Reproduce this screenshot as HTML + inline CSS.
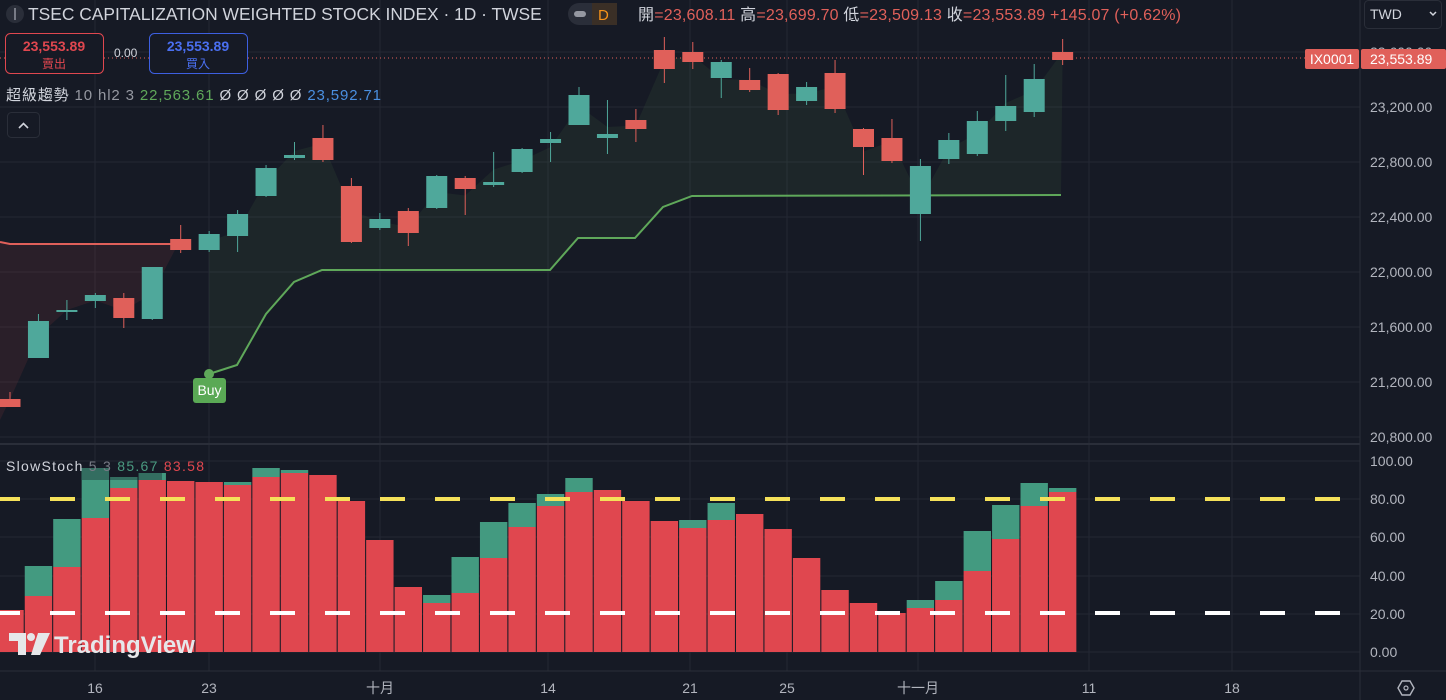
<!DOCTYPE html>
<html><head><meta charset="utf-8">
<style>
html,body{margin:0;padding:0;background:#161a25;width:1446px;height:700px;overflow:hidden;font-family:"Liberation Sans","Noto Sans CJK TC",sans-serif}
svg{display:block}
</style></head>
<body>
<svg id="s" width="1446" height="700" xmlns="http://www.w3.org/2000/svg" font-family="Liberation Sans, Noto Sans CJK TC, sans-serif">
<rect width="1446" height="700" fill="#161a25"/>
<g id="grid" stroke="#242833" stroke-width="1">
 <line x1="0" y1="52" x2="1360" y2="52"/><line x1="0" y1="107" x2="1360" y2="107"/><line x1="0" y1="162" x2="1360" y2="162"/><line x1="0" y1="217" x2="1360" y2="217"/><line x1="0" y1="272" x2="1360" y2="272"/><line x1="0" y1="327" x2="1360" y2="327"/><line x1="0" y1="382" x2="1360" y2="382"/><line x1="0" y1="437" x2="1360" y2="437"/>
 <line x1="0" y1="461" x2="1360" y2="461"/><line x1="0" y1="499" x2="1360" y2="499"/><line x1="0" y1="537" x2="1360" y2="537"/><line x1="0" y1="576" x2="1360" y2="576"/><line x1="0" y1="614" x2="1360" y2="614"/><line x1="0" y1="652" x2="1360" y2="652"/>
 <line x1="95" y1="0" x2="95" y2="671"/><line x1="209" y1="0" x2="209" y2="671"/><line x1="380" y1="0" x2="380" y2="671"/><line x1="548" y1="0" x2="548" y2="671"/><line x1="690" y1="0" x2="690" y2="671"/><line x1="787" y1="0" x2="787" y2="671"/><line x1="918" y1="0" x2="918" y2="671"/><line x1="1089" y1="0" x2="1089" y2="671"/><line x1="1232" y1="0" x2="1232" y2="671"/>
</g>
<line x1="0" y1="444" x2="1360" y2="444" stroke="#2a2e39" stroke-width="2"/>
<line x1="0" y1="671" x2="1446" y2="671" stroke="#2a2e39"/>
<line x1="1360" y1="0" x2="1360" y2="700" stroke="#2a2e39"/>
<g id="fills"></g>
<g id="lines"></g>
<g id="candles"></g>
<g id="stoch"></g>
<line x1="0" y1="58" x2="1305" y2="58" stroke="#e0605a" stroke-dasharray="1,3" stroke-width="1"/>
<g id="dash"></g>
<circle cx="209" cy="374" r="5" fill="#5fa85a"/>
<rect x="193" y="378" width="33" height="25" rx="3" fill="#5aa955"/>
<text x="209.5" y="395" fill="#fff" font-size="14" text-anchor="middle">Buy</text>
<circle cx="15" cy="14" r="9" fill="#2a2e39"/><rect x="14" y="8" width="2" height="12" fill="#787b86"/>
<text x="28" y="20" fill="#d1d4dc" font-size="17.4">TSEC CAPITALIZATION WEIGHTED STOCK INDEX · 1D · TWSE</text>
<rect x="568" y="3" width="49" height="22" rx="11" fill="#2a2e39"/>
<rect x="574" y="11" width="12" height="6" rx="3" fill="#9598a1"/>
<rect x="592" y="3" width="25" height="22" fill="#3a2f26"/>
<text x="598" y="20" fill="#f7931a" font-size="15">D</text>
<text x="638" y="20" font-size="16" fill="#d1d4dc" textLength="543" lengthAdjust="spacing">開<tspan fill="#e0605a">=23,608.11</tspan> 高<tspan fill="#e0605a">=23,699.70</tspan> 低<tspan fill="#e0605a">=23,509.13</tspan> 收<tspan fill="#e0605a">=23,553.89 +145.07 (+0.62%)</tspan></text>
<rect x="5.5" y="33.5" width="98" height="40" rx="5" fill="#161a25" stroke="#e0474f"/>
<text x="54" y="51" fill="#e0474f" font-size="14" font-weight="bold" text-anchor="middle">23,553.89</text>
<text x="54" y="68" fill="#e0474f" font-size="12" text-anchor="middle">賣出</text>
<text x="114" y="57" fill="#d1d4dc" font-size="12">0.00</text>
<rect x="149.5" y="33.5" width="98" height="40" rx="5" fill="#161a25" stroke="#3d5fe0"/>
<text x="198" y="51" fill="#4a6ff0" font-size="14" font-weight="bold" text-anchor="middle">23,553.89</text>
<text x="198" y="68" fill="#4a6ff0" font-size="12" text-anchor="middle">買入</text>
<text x="6" y="100" font-size="15" fill="#d1d4dc" textLength="375" lengthAdjust="spacing">超級趨勢 <tspan fill="#9598a1">10 hl2 3</tspan>  <tspan fill="#5fa85a">22,563.61</tspan>  <tspan fill="#d1d4dc">Ø Ø Ø Ø Ø</tspan> <tspan fill="#4a8fe0">23,592.71</tspan></text>
<rect x="7.5" y="112.5" width="32" height="25" rx="4" fill="#161a25" stroke="#2a2e39"/>
<path d="M19 128 L23.5 123.5 L28 128" stroke="#d1d4dc" stroke-width="1.6" fill="none"/>
<text x="6" y="471" font-size="14" fill="#d1d4dc" textLength="198" lengthAdjust="spacing">SlowStoch <tspan fill="#787b86">5 3</tspan>  <tspan fill="#4a9a80">85.67</tspan> <tspan fill="#e0474f">83.58</tspan></text>
<g fill="#e6e7ea"><path d="M9 633 h17 v22 h-8 v-14 h-9z"/><circle cx="31" cy="637" r="4"/><path d="M38 633 h12 l-10 22 h-9z"/></g>
<text x="54" y="653" font-size="24" font-weight="bold" fill="#e6e7ea">TradingView</text>
<rect x="1364.5" y="0.5" width="77" height="28" rx="4" fill="#161a25" stroke="#2a2e39"/>
<text x="1370" y="19" fill="#d1d4dc" font-size="14">TWD</text>
<path d="M1430 12 l3 3 l3 -3" stroke="#d1d4dc" stroke-width="1.5" fill="none"/>
<g fill="#b2b5be" font-size="14">
<text x="1370" y="57">23,600.00</text><text x="1370" y="112">23,200.00</text><text x="1370" y="167">22,800.00</text><text x="1370" y="222">22,400.00</text><text x="1370" y="277">22,000.00</text><text x="1370" y="332">21,600.00</text><text x="1370" y="387">21,200.00</text><text x="1370" y="442">20,800.00</text>
<text x="1370" y="466">100.00</text><text x="1370" y="504">80.00</text><text x="1370" y="542">60.00</text><text x="1370" y="581">40.00</text><text x="1370" y="619">20.00</text><text x="1370" y="657">0.00</text>
</g>
<rect x="1305" y="49" width="54" height="20" rx="2" fill="#e0605a"/>
<text x="1332" y="64" fill="#fff" font-size="14" text-anchor="middle">IX0001</text>
<rect x="1361" y="49" width="85" height="20" rx="2" fill="#e0605a"/>
<text x="1370" y="64" fill="#fff" font-size="14">23,553.89</text>
<g fill="#b2b5be" font-size="14" text-anchor="middle">
<text x="95" y="693">16</text><text x="209" y="693">23</text><text x="380" y="693">十月</text><text x="548" y="693">14</text><text x="690" y="693">21</text><text x="787" y="693">25</text><text x="918" y="693">十一月</text><text x="1089" y="693">11</text><text x="1232" y="693">18</text>
</g>
<path d="M1398 688 l4 -7 h8 l4 7 l-4 7 h-8z" fill="none" stroke="#b2b5be" stroke-width="1.4"/><circle cx="1406" cy="688" r="2" fill="none" stroke="#b2b5be" stroke-width="1.2"/>
</svg>
<script>
var NS="http://www.w3.org/2000/svg";
function el(p,t,a){var e=document.createElementNS(NS,t);for(var k in a)e.setAttribute(k,a[k]);document.getElementById(p).appendChild(e);return e;}
var C=[[0,399,407,392,407],[1,321,358,314,358],[1,310,312,300,320],[1,295,301,293,308],[0,298,318,293,328],[1,267,319,267,320],[0,239,250,225,253],[1,234,250,231,252],[1,214,236,210,252],[1,168,196,165,197],[1,155,158,142,160],[0,138,160,125,162],[0,186,242,178,243],[1,219,228,213,230],[0,211,233,208,246],[1,176,208,175,209],[0,178,189,176,215],[1,182,185,152,187],[1,149,172,148,173],[1,139,143,132,162],[1,95,125,87,125],[1,134,138,100,154],[0,120,129,109,142],[0,50,69,37,83],[0,52,62,42,69],[1,62,78,60,98],[0,80,90,68,92],[0,74,110,73,115],[1,87,101,82,105],[0,73,109,60,113],[0,129,147,128,175],[0,138,161,119,163],[1,166,214,159,241],[1,140,159,133,164],[1,121,154,111,156],[1,106,121,75,131],[1,79,112,64,117],[0,52,60,39,65]];
function X(i){return 10+28.45*i;}
var UP="#4fa89b",DN="#e0605a";
var red=[[0,242],[10,244],[180,244]];
var grn=[[209,374],[237,365],[266,314],[294,282],[322,270],[550,270],[578,238],[635,238],[663,207],[692,196],[1061,195]];
function hl(i){return (C[i][3]+C[i][4])/2;}
var d="M0 242 L10 244 L180 244 ";for(var i=6;i>=0;i--)d+="L"+X(i)+" "+hl(i)+" ";d+="L0 420 Z";
el("fills","path",{d:d,fill:"rgba(224,80,80,0.10)"});
d="M209 374 ";for(var k=0;k<grn.length;k++)d+="L"+grn[k][0]+" "+grn[k][1]+" ";for(i=37;i>=7;i--)d+="L"+X(i)+" "+hl(i)+" ";d+="Z";
el("fills","path",{d:d,fill:"rgba(95,168,90,0.09)"});
el("lines","polyline",{points:red.map(p=>p.join(",")).join(" "),fill:"none",stroke:"#e0605a","stroke-width":2});
el("lines","polyline",{points:grn.map(p=>p.join(",")).join(" "),fill:"none",stroke:"#5fa85a","stroke-width":2});
C.forEach(function(c,i){var x=X(i),col=c[0]?UP:DN;
 el("candles","line",{x1:x,x2:x,y1:c[3],y2:c[4],stroke:col,"stroke-width":1});
 el("candles","rect",{x:x-10.5,y:c[1],width:21,height:Math.max(1.5,c[2]-c[1]),fill:col});});
var S=[[610,0],[596,566],[567,519],[518,468],[488,477],[480,473],[481,0],[482,482],[485,482],[477,468],[473,470],[475,0],[501,0],[540,0],[587,0],[603,595],[593,557],[558,522],[527,503],[506,494],[492,478],[490,0],[501,0],[521,0],[528,520],[520,503],[514,0],[529,0],[558,0],[590,0],[603,0],[613,0],[608,600],[600,581],[571,531],[539,505],[506,483],[492,488]];
S.forEach(function(s,i){var x=X(i)-13.7,w=27.4;
 if(s[1]&&s[1]<s[0])el("stoch","rect",{x:x,y:s[1],width:w,height:s[0]-s[1],fill:"#439a80"});
 el("stoch","rect",{x:x,y:s[0],width:w,height:652-s[0],fill:"#e0474f"});});
el("stoch","rect",{x:82,y:468,width:80,height:12,fill:"rgba(22,26,37,0.35)"});
for(var k2=0;k2<=24;k2++){var x0=-5+55*k2;el("dash","rect",{x:x0,y:497,width:25,height:4,fill:"#f5e15a"});el("dash","rect",{x:x0,y:611,width:25,height:4,fill:"#ffffff"});}
</script>
</body></html>
